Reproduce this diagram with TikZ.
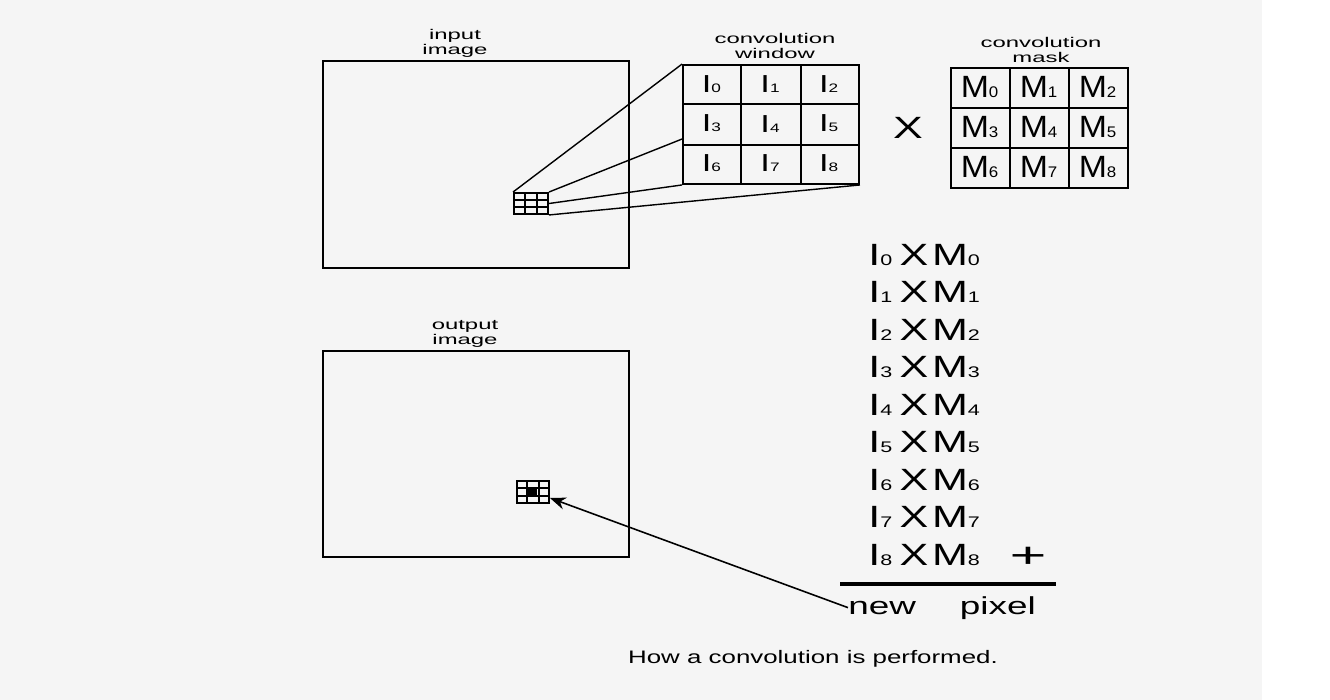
\documentclass[tikz,border=0pt]{standalone}
\usepackage{fontspec}
\setmainfont{Liberation Sans}
\usetikzlibrary{arrows.meta,calc}

\newcommand{\wide}[2][1.7]{\scalebox{#1}[1]{#2}}
\newcommand{\lowsub}[1]{\scalebox{0.5}{#1}}

\begin{document}
\begin{tikzpicture}[
  x=0.02cm, y=-0.02cm,
  >={Stealth[length=9pt,width=7pt]},
  frame/.style={draw,line width=1.1pt,inner sep=0pt},
  fan/.style={line width=0.8pt},
  caption/.style={font=\fontsize{8}{8.5}\selectfont,align=center,inner sep=0pt},
  cellI/.style={font=\fontsize{14}{14}\selectfont,inner sep=0pt},
  cellM/.style={font=\fontsize{17.5}{17.5}\selectfont,inner sep=0pt},
  prod/.style={font=\fontsize{17.5}{17.5}\selectfont,inner sep=0pt,anchor=base west}
]
  \fill[black!4] (0,0) rectangle (1262,700);
  \useasboundingbox (0,0) rectangle (1330,700);

  % the two images
  \node[frame,minimum width=6.12cm,minimum height=4.14cm] (inimg) at (476,164.5) {};
  \node[frame,minimum width=6.12cm,minimum height=4.12cm] (outimg) at (476,454) {};
  \node[caption] (inlbl) at (455,43) {\wide{input}\\\wide{image}};
  \node[caption] (outlbl) at (465,334) {\wide{output}\\\wide{image}};

  % 3x3 neighbourhoods
  \node[frame,minimum width=0.68cm,minimum height=0.42cm] (ingrid) at (531,203.5) {};
  \node[frame,minimum width=0.64cm,minimum height=0.44cm] (outgrid) at (533,492) {};
  \fill ($(outgrid.north west)+(32/3,22/3)$) rectangle ($(outgrid.north west)+(64/3,44/3)$);

  % window and mask
  \node[frame,minimum width=3.52cm,minimum height=2.38cm] (win) at (771,124.5) {};
  \node[frame,minimum width=3.54cm,minimum height=2.4cm] (mask) at (1039.5,128) {};
  \node[caption] (winlbl) at (775,46) {\wide{convolution}\\\wide{window}};
  \node[caption] (masklbl) at (1041,50) {\wide{convolution}\\\wide{mask}};

  \foreach \g in {ingrid,outgrid,win,mask} {
    \foreach \k in {1,2} {
      \draw[line width=1pt] ($(\g.north west)!\k/3!(\g.north east)$) -- ($(\g.south west)!\k/3!(\g.south east)$);
      \draw[line width=1pt] ($(\g.north west)!\k/3!(\g.south west)$) -- ($(\g.north east)!\k/3!(\g.south east)$);
    }
  }

  \foreach \i in {0,...,8} {
    \pgfmathtruncatemacro{\rr}{int(\i/3)}
    \pgfmathtruncatemacro{\cc}{mod(\i,3)}
    \node[cellI] (w\i) at ($(win.north west)+({(\cc+0.5)*176/3},{(\rr+0.5)*119/3})$) {\wide[1.4]{I\lowsub{\i}}};
    \node[cellM] (m\i) at ($(mask.north west)+({(\cc+0.5)*177/3},{(\rr+0.5)*120/3})$) {\wide[1.1]{M\lowsub{\i}}};
  }
  \node[cellM] (times) at (908,128) {\wide[1.45]{X}};

  % fan from the input pixels to the window
  \coordinate (wjoin) at ($(win.north west)!0.62!(win.south west)$);
  \draw[fan] (ingrid.north west) -- (win.north west);
  \draw[fan] (ingrid.north east) -- (wjoin);
  \draw[fan] (ingrid.east) -- (win.south west);
  \draw[fan] (ingrid.south east) -- (win.south east);

  % products and sum
  \foreach \i in {0,...,8}
    \node[prod] (p\i) at (868,{265+37.5*\i}) {\wide[1.4]{I\lowsub{\i}\hspace{3pt}X\hspace{1.5pt}M\lowsub{\i}}};
  \node[font=\fontsize{20}{20}\selectfont,inner sep=0pt] (plus) at (1028,557) {\wide[1.8]{+}};
  \draw[line width=1.8pt] (840,584) -- (1056,584);
  \node[font=\fontsize{14}{14}\selectfont,inner sep=0pt,anchor=base west] (newpx) at (848,614)
    {\wide[1.5]{new}\hspace{25pt}\wide[1.5]{pixel}};
  \draw[->,line width=0.9pt] (newpx.west) -- ($(outgrid.east)!0.5!(outgrid.south east)$);

  \node[font=\fontsize{10.3}{12}\selectfont,inner sep=0pt] (title) at (813,659)
    {\wide[1.43]{How a convolution is performed.}};
\end{tikzpicture}
\end{document}
